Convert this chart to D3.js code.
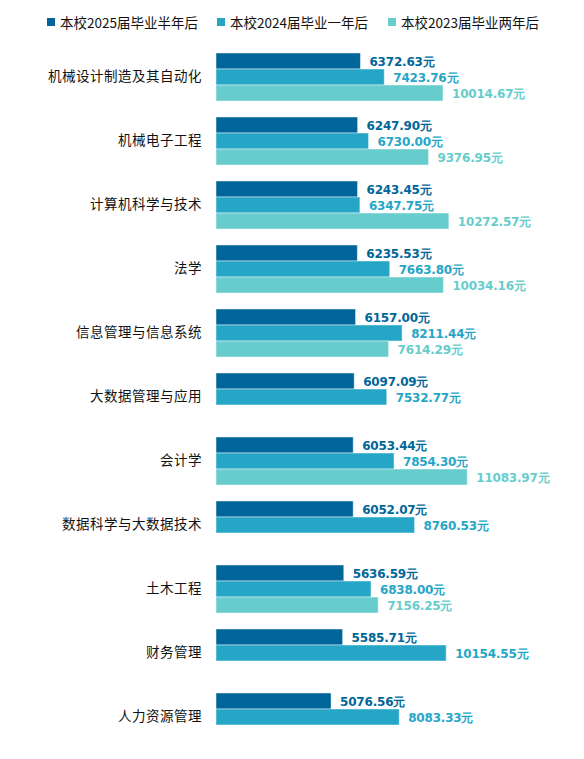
<!DOCTYPE html>
<html><head><meta charset="utf-8">
<script src="https://cdn.jsdelivr.net/npm/d3@7"></script>
<style>
html,body{margin:0;padding:0;background:#fff;}
svg{display:block;}
</style>
</head><body>
<svg id="chart" width="584" height="759"></svg>
<script>
const categories = ["机械设计制造及其自动化","机械电子工程","计算机科学与技术","法学","信息管理与信息系统","大数据管理与应用","会计学","数据科学与大数据技术","土木工程","财务管理","人力资源管理"];
const seriesNames = ["本校2025届毕业半年后","本校2024届毕业一年后","本校2023届毕业两年后"];
const values2025 = [6372.63,6247.90,6243.45,6235.53,6157.00,6097.09,6053.44,6052.07,5636.59,5585.71,5076.56];
const values2024 = [7423.76,6730.00,6347.75,7663.80,8211.44,7532.77,7854.30,8760.53,6838.00,10154.55,8083.33];
const values2023 = [10014.67,9376.95,10272.57,10034.16,7614.29,null,11083.97,null,7156.25,null,null];
const colors = ["#006699","#26A6C7","#66CDCC"];

const svg = d3.select("#chart");
const allSeries = [values2025, values2024, values2023];

const x = d3.scaleLinear().domain([0, 12000]).range([216, 488]);
const y = d3.scaleBand().domain(categories).range([45, 749]).paddingInner(0.25).paddingOuter(0.125);
const ySub = d3.scaleBand().domain([0,1,2]).range([0, y.bandwidth()]);

const rows = [];
categories.forEach((c, i) => {
  allSeries.forEach((s, k) => {
    if (s[i] != null) rows.push({cat: c, k: k, v: s[i]});
  });
});

const g = svg.append("g");
g.selectAll("rect.bar").data(rows).join("rect")
  .attr("class","bar")
  .attr("x", x(0))
  .attr("y", d => y(d.cat) + ySub(d.k))
  .attr("width", d => x(d.v) - x(0))
  .attr("height", ySub.bandwidth())
  .attr("fill", d => colors[d.k])
  .attr("stroke", "rgba(255,255,255,0.45)")
  .attr("stroke-width", 1);

g.selectAll("text.val").data(rows).join("text")
  .attr("class","val")
  .attr("x", d => x(d.v) + 9)
  .attr("y", d => y(d.cat) + ySub(d.k) + ySub.bandwidth()/2 + 1)
  .attr("dominant-baseline","central")
  .attr("fill", d => colors[d.k])
  .style("font-family","'DejaVu Sans', sans-serif")
  .style("font-weight","bold")
  .style("font-size","12px")
  .style("letter-spacing","-0.2px")
  .text(d => d.v.toFixed(2) + "元");

// category axis
const yAxis = d3.axisLeft(y).tickSize(0).tickPadding(0);
const ax = svg.append("g").attr("transform","translate(202,0)").call(yAxis);
ax.select(".domain").remove();
ax.selectAll("text")
  .style("font-family","'Noto Sans CJK SC', sans-serif")
  .style("font-size","13.5px")
  .style("letter-spacing","0.5px")
  .attr("fill","#111");

// legend
const legendX = [47, 217, 388];
const lg = svg.append("g").selectAll("g").data(seriesNames).join("g")
  .attr("transform", (d,i) => `translate(${legendX[i]},18)`);
lg.append("rect").attr("width",8).attr("height",8).attr("fill",(d,i)=>colors[i]);
lg.append("text").attr("x",13).attr("y",4).attr("dominant-baseline","central")
  .style("font-family","'Noto Sans CJK SC', sans-serif")
  .style("font-size","13.5px")
  .attr("fill","#111")
  .text(d => d);
</script>
</body></html>
